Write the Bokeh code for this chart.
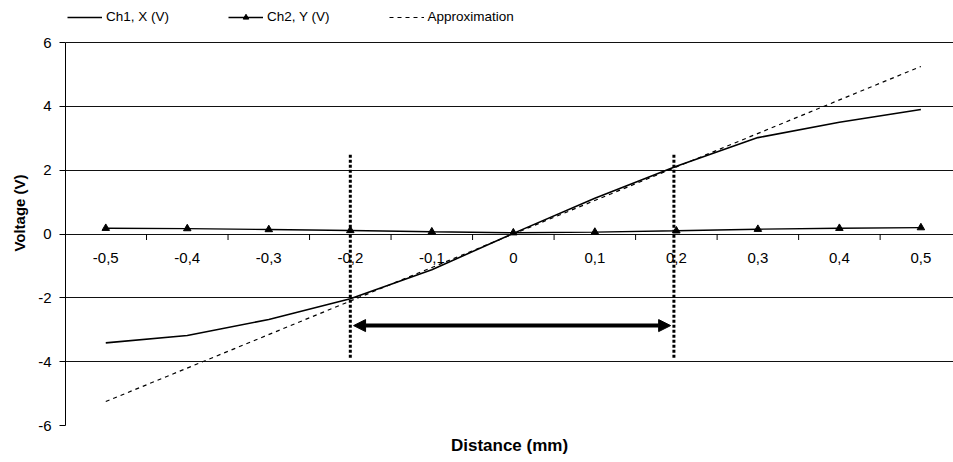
from bokeh.plotting import figure
from bokeh.models import (ColumnDataSource, FixedTicker, Legend, LegendItem,
                          Title, Arrow, NormalHead, Range1d)
from bokeh.core.properties import value
from bokeh.embed import file_html
from bokeh.resources import INLINE

# ---- data ----
distance = [-0.5, -0.4, -0.3, -0.2, -0.1, 0.0, 0.1, 0.2, 0.3, 0.4, 0.5]
ch1_x = [-3.41, -3.18, -2.68, -2.03, -1.12, 0.02, 1.12, 2.12, 3.02, 3.50, 3.90]
ch2_y = [0.18, 0.17, 0.14, 0.11, 0.07, 0.04, 0.06, 0.10, 0.15, 0.18, 0.20]
approx_x = [-0.5, 0.5]
approx_v = [-5.25, 5.25]
x_tick_labels = ["-0,5", "-0,4", "-0,3", "-0,2", "-0,1", "0", "0,1", "0,2", "0,3", "0,4", "0,5"]
x_axis_cross = [0] * len(distance)          # category axis crosses at V = 0
x_tick_marks = [-0.45, -0.35, -0.25, -0.15, -0.05, 0.05, 0.15, 0.25, 0.35, 0.45]
y_ticks = [-6, -4, -2, 0, 2, 4, 6]
y_tick_labels = ["-6", "-4", "-2", "0", "2", "4", "6"]
band_x = [-0.2, 0.197]
band_top = [2.52, 2.52]
band_bottom = [-3.88, -3.88]
arrow_x = [-0.196, 0.193]
arrow_v = -2.87

FONT = "Liberation Sans"

p = figure(width=953, height=462, x_range=Range1d(-0.5494, 0.540), y_range=Range1d(-6, 7.316),
           output_backend="svg", toolbar_location=None, x_axis_location=None,
           min_border_left=64, min_border_right=0, min_border_top=0, min_border_bottom=37)
p.outline_line_color = None
p.background_fill_color = "white"
p.border_fill_color = "white"
p.xgrid.visible = False
p.ygrid.ticker = FixedTicker(ticks=y_ticks)
p.ygrid.grid_line_color = "#111111"
p.ygrid.grid_line_width = 1

# y axis
yax = p.yaxis[0]
yax.bounds = (-6, 6)
yax.ticker = FixedTicker(ticks=y_ticks, minor_ticks=[])
yax.major_label_overrides = {float(t): l for t, l in zip(y_ticks, y_tick_labels)}
yax.axis_line_color = "black"
yax.major_tick_line_color = "black"
yax.major_tick_out = 6
yax.major_tick_in = 0
yax.minor_tick_out = 0
yax.minor_tick_in = 0
yax.major_label_standoff = 8
yax.major_label_text_font = FONT
yax.major_label_text_font_size = "15px"
yax.major_label_text_color = "black"

p.add_layout(Title(text="Voltage (V)", align="center", offset=-9, text_font=FONT,
                   text_font_style="bold", text_font_size="15px", text_color="black",
                   standoff=16), "left")

# x category labels and tick marks on the V = 0 line
lab_src = ColumnDataSource(dict(x=distance, y=x_axis_cross, t=x_tick_labels))
p.text(x="x", y="y", text="t", source=lab_src, text_align="center", text_baseline="top",
       y_offset=19, text_font=value(FONT), text_font_size="15px", text_color="black")
p.ray(x=x_tick_marks, y=[0] * len(x_tick_marks), length=6, length_units="screen",
      angle=-90, angle_units="deg", line_color="black", line_width=1)

p.add_layout(Title(text="Distance (mm)", align="center", text_font=FONT, text_font_style="bold",
                   text_font_size="17px", text_color="black", standoff=16), "below")

src = ColumnDataSource(dict(x=distance, ch1=ch1_x, ch2=ch2_y))
r1 = p.line("x", "ch1", source=src, line_color="black", line_width=1.6)
r2 = p.line("x", "ch2", source=src, line_color="black", line_width=1.4)
r2m = p.scatter("x", "ch2", source=src, marker="triangle", size=7.5, fill_color="black",
                line_color="black")
r3 = p.line(approx_x, approx_v, line_color="black", line_width=1.2, line_dash="4 4")

p.segment(x0=band_x, y0=band_bottom, x1=band_x, y1=band_top, line_color="black",
          line_width=3, line_dash="3 2")
p.add_layout(Arrow(start=NormalHead(size=12, fill_color="black", line_color="black"),
                   end=NormalHead(size=12, fill_color="black", line_color="black"),
                   x_start=arrow_x[0], y_start=arrow_v, x_end=arrow_x[1], y_end=arrow_v,
                   line_color="black", line_width=4))

legend = Legend(items=[LegendItem(label="Ch1, X (V)", renderers=[r1]),
                       LegendItem(label="Ch2, Y (V)", renderers=[r2, r2m]),
                       LegendItem(label="Approximation", renderers=[r3])],
                orientation="horizontal", location=(2, 401), margin=0, padding=0,
                glyph_width=35, glyph_height=14, label_standoff=4, spacing=59,
                label_text_font=FONT, label_text_font_size="13.5px", label_text_color="black",
                border_line_color=None, background_fill_alpha=0)
p.add_layout(legend)

open("out.html", "w").write(file_html(p, INLINE))
